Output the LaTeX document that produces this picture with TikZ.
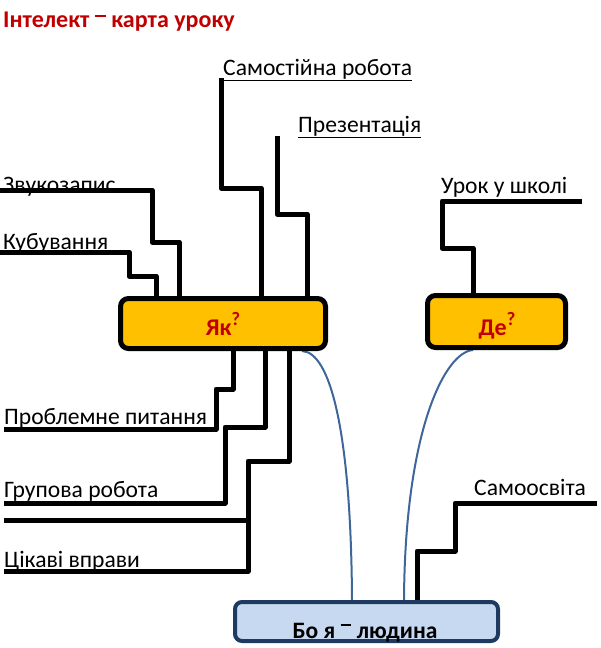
\documentclass[tikz,border=0pt]{standalone}
\usepackage{fontspec}
\setmainfont{Carlito}
\usetikzlibrary{backgrounds}
\definecolor{gold}{HTML}{FFC000}
\definecolor{darkred}{HTML}{C00000}
\definecolor{paleblue}{HTML}{C6D9F1}
\definecolor{navy}{HTML}{1F3A60}
\definecolor{curveblue}{HTML}{3E6699}
\newcommand{\hibar}[1]{\raisebox{#1}{\rule{0.46em}{0.085em}}}
\newcommand{\supq}{\raisebox{0.4em}{\fontsize{19}{19}\selectfont ?}}
\begin{document}
\begin{tikzpicture}[x=1pt,y=-1pt,
  wire/.style={line width=5pt, line join=round},
  qbox/.style={draw=black, line width=5pt, fill=gold, rounded corners=8pt,
    inner sep=0pt},
  qtext/.style={anchor=base, inner sep=0pt, text=darkred, font=\bfseries\fontsize{24}{24}\selectfont},
  bbox/.style={draw=navy, line width=4pt, fill=paleblue, rounded corners=7pt,
    inner sep=0pt, minimum width=263pt, minimum height=39pt},
  lbl/.style={anchor=base west, inner sep=0pt, font=\fontsize{23.6}{23.6}\selectfont},
  curve/.style={draw=curveblue, line width=2pt}]
\useasboundingbox (0,0) rectangle (601,648);

% title
\node[anchor=base west, inner sep=0pt, text=darkred, font=\bfseries\fontsize{24}{24}\selectfont]
  (title) at (3,27) {Інтелект \hibar{0.42em} карта уроку};

% boxes
\node[qbox, minimum width=205pt, minimum height=50pt] (yak) at (223,323.5) {};
\node[qtext] (yakt) at (223,335) {Як\supq};
\node[qbox, minimum width=138pt, minimum height=52pt] (de) at (496.5,321.5) {};
\node[qtext] (det) at (497,335) {Де\supq};
\node[bbox] (bo) at (366.5,621.5) {};
\node[anchor=base, inner sep=0pt, font=\bfseries\fontsize{23.5}{23.5}\selectfont] (botext) at (365,638) {Бо я \hibar{0.5em} людина};

% labels
\node[lbl] (zv) at (3,192) {Звукозапис};
\node[lbl] (ku) at (3,249) {Кубування};
\node[lbl] (sm) at (223,75) {\underline{Самостійна робота}};
\node[lbl] (pr) at (298,132) {\underline{Презентація}};
\node[lbl] (pp) at (4,424) {Проблемне питання};
\node[lbl] (gr) at (4,497) {Групова робота};
\node[lbl] (ck) at (4,567) {Цікаві вправи};
\node[lbl] (ur) at (441,193) {Урок у школі};
\node[lbl] (sa) at (474,495) {Самоосвіта};

% free ends
\coordinate (zvE) at (0,190);
\coordinate (kuE) at (0,252);
\coordinate (smE) at (221,78);
\coordinate (prE) at (277,136);
\coordinate (ppE) at (4,429);
\coordinate (grE) at (4,503);
\coordinate (ckE) at (4,571);
\coordinate (blE) at (4,520);
\coordinate (urE) at (582,201);
\coordinate (saE) at (597,503);

\begin{scope}[on background layer]
\draw[wire] (zvE) -- (152,190) -- (152,242) -- (179,242) -- (yak.north -| 179,0);
\draw[wire] (kuE) -- (129,252) -- (129,276) -- (156,276) -- (yak.north -| 156,0);
\draw[wire] (smE) -- (221,188) -- (261,188) -- (yak.north -| 261,0);
\draw[wire] (prE) -- (277,214) -- (307,214) -- (yak.north -| 307,0);
\draw[wire] (ppE) -- (216,429) -- (216,389) -- (233,389) -- (yak.south -| 233,0);
\draw[wire] (grE) -- (225,503) -- (225,427) -- (265,427) -- (yak.south -| 265,0);
\draw[wire] (ckE) -- (248,571) -- (248,461) -- (289,461) -- (yak.south -| 289,0);
\draw[wire] (blE) -- (248,520);
\draw[wire] (urE) -- (442,201) -- (442,248) -- (473,248) -- (de.north -| 473,0);
\draw[wire] (saE) -- (455,503) -- (455,551) -- (417,551) -- (bo.north -| 417,0);
\draw[curve] (yak.south -| 302,0) .. controls (330,352) and (351,430) .. (bo.north -| 352,0);
\draw[curve] (de.south -| 473,0) .. controls (445,352) and (405,430) .. (bo.north -| 404,0);
\end{scope}
\end{tikzpicture}
\end{document}
